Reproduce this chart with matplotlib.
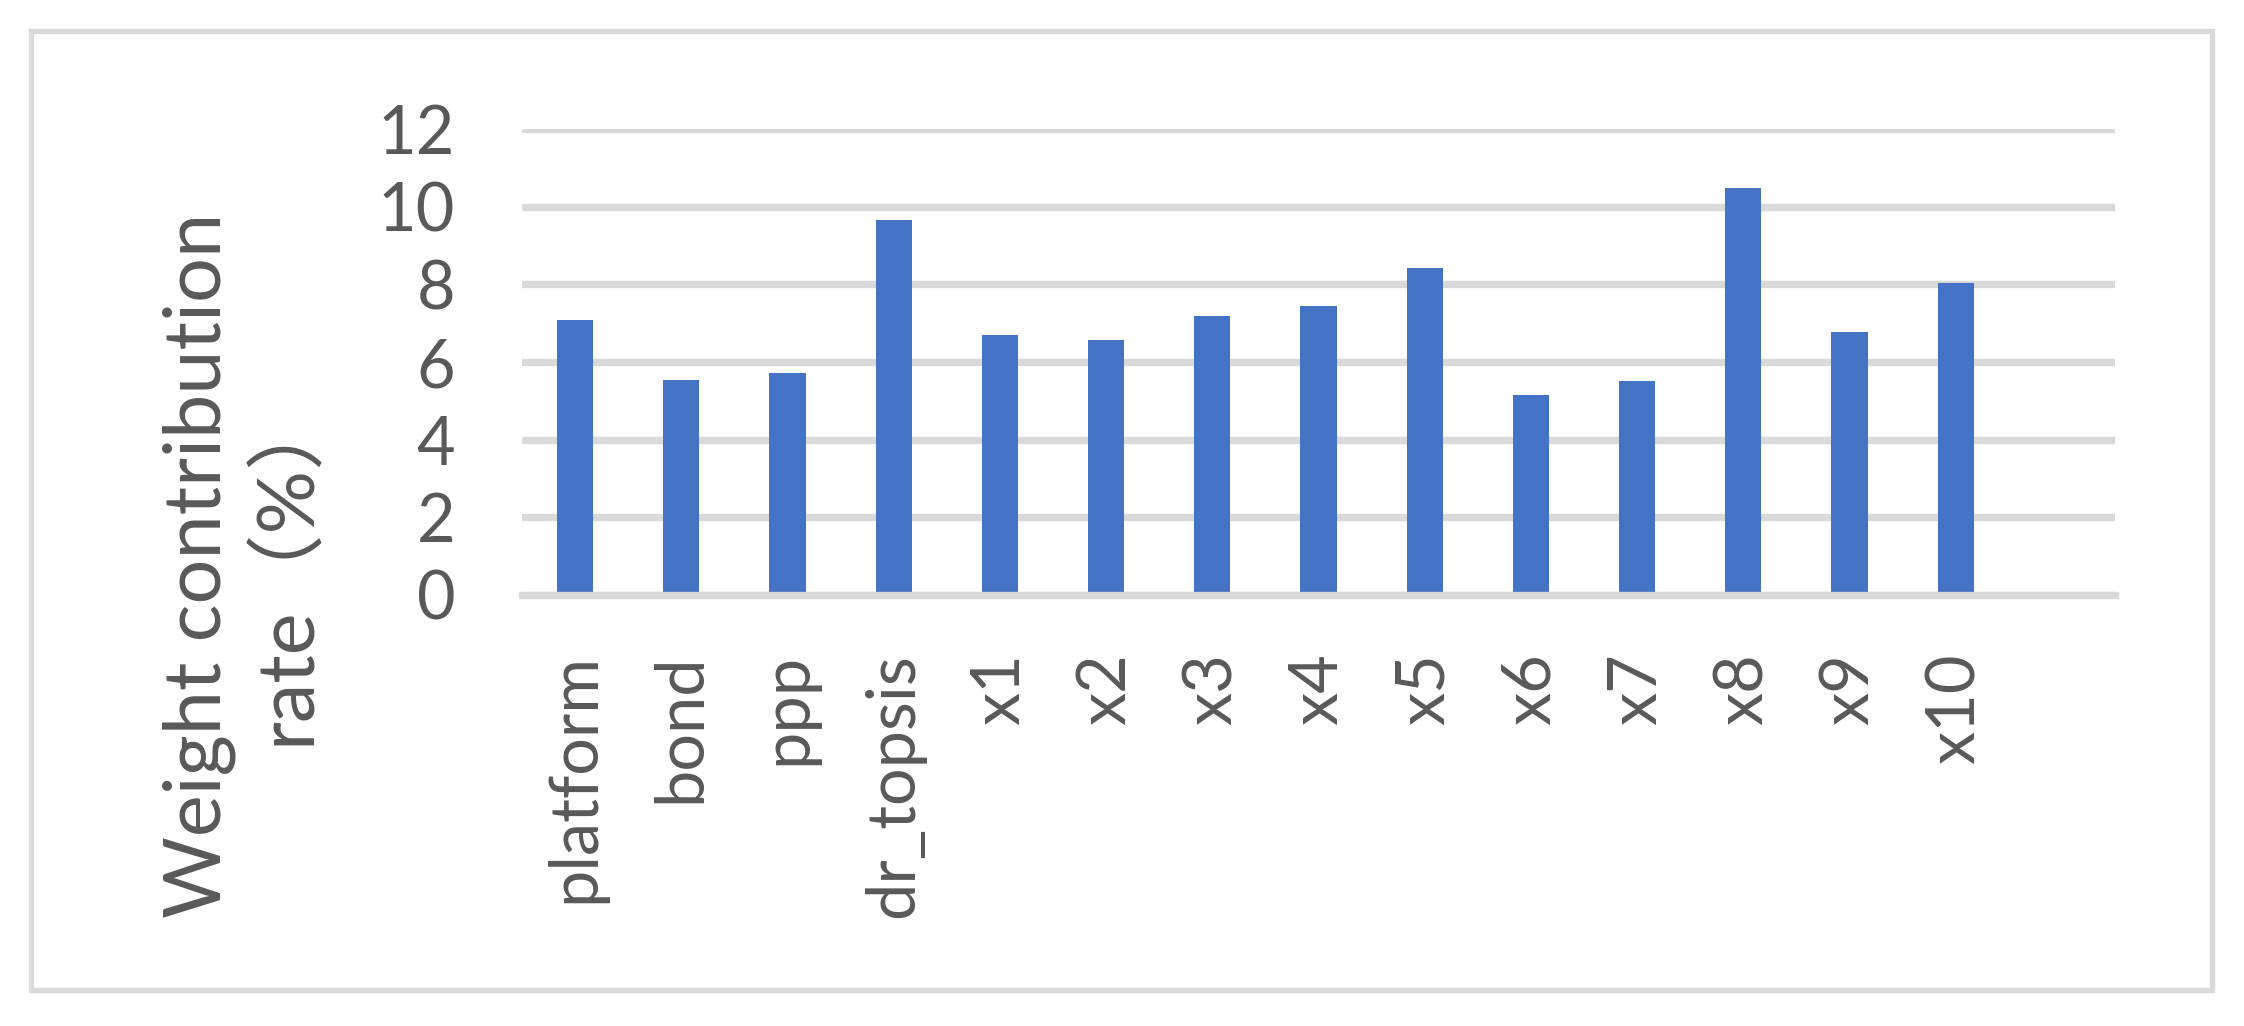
import matplotlib.pyplot as plt
from matplotlib.patches import Rectangle

# Weight contribution rate (%) per variable
categories = ['platform', 'bond', 'ppp', 'dr_topsis', 'x1', 'x2', 'x3', 'x4',
              'x5', 'x6', 'x7', 'x8', 'x9', 'x10']
weights = [7.08, 5.54, 5.72, 9.66, 6.70, 6.57, 7.19, 7.45,
           8.43, 5.15, 5.52, 10.49, 6.78, 8.04]
y_ticks = [0, 2, 4, 6, 8, 10, 12]

BAR_COLOR = '#4472C4'
GRID_COLOR = '#D9D9D9'
TEXT_COLOR = '#595959'
FONT = ['Lato', 'Noto Sans CJK SC', 'DejaVu Sans']

plt.rcParams['font.family'] = FONT

W, H = 2244, 1026
fig = plt.figure(figsize=(W / 100, H / 100), dpi=100)
ax = fig.add_axes([522 / W, 1 - 595 / H, (2115 - 522) / W, (595 - 129) / H])

x = list(range(len(categories)))
ax.bar(x, weights, width=0.34, color=BAR_COLOR, zorder=3)

# Excel leaves one empty slot on the right
ax.set_xlim(-0.5, len(categories) + 0.5)
ax.set_ylim(0, 12)
ax.set_yticks(y_ticks)
ax.set_xticks(x)
ax.set_xticklabels(categories, rotation=90, fontsize=48, color=TEXT_COLOR)
ax.tick_params(axis='x', length=0, pad=42)
ax.tick_params(axis='y', length=0, pad=48, labelsize=48, labelcolor=TEXT_COLOR)

ax.yaxis.grid(True, color=GRID_COLOR, linewidth=5.3, zorder=0)
ax.set_axisbelow(True)
for side in ['top', 'right', 'left']:
    ax.spines[side].set_visible(False)
ax.spines['bottom'].set_color(GRID_COLOR)
ax.spines['bottom'].set_linewidth(5.3)
ax.spines['bottom'].set_zorder(4)

fig.text(243 / W, 1 - 565 / H, 'Weight contribution\nrate（%）', rotation=90,
         ha='center', va='center', multialignment='center',
         fontsize=57, color=TEXT_COLOR, linespacing=1.2)

# light grey chart-area border
fig.patches.append(Rectangle((31 / W, 1 - 990 / H), (2212 - 31) / W, (990 - 31) / H,
                             transform=fig.transFigure, fill=False,
                             edgecolor=GRID_COLOR, linewidth=3.8))

fig.savefig('out.png', dpi=100, facecolor='white')
